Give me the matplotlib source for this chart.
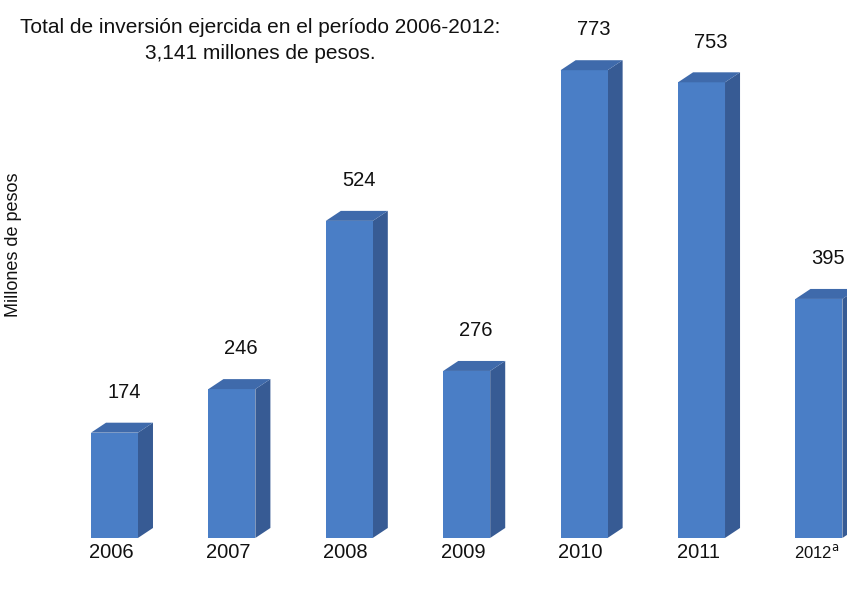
import matplotlib
matplotlib.use('Agg')
import matplotlib.pyplot as plt
from matplotlib.patches import Polygon

# data
years = ['2006', '2007', '2008', '2009', '2010', '2011', '2012']
values = [174, 246, 524, 276, 773, 753, 395]

plt.rcParams['font.family'] = ['Liberation Sans', 'DejaVu Sans']

fig = plt.figure(figsize=(8.47, 5.90), dpi=100)
ax = fig.add_axes([0, 0, 1, 1])

# axes limits chosen so the bars land where they sit in the picture
ax.set_xlim(-0.975, 6.239)
ax.set_ylim(-86, 889)
ax.axis('off')

width = 0.40
ddx = 0.128   # depth of the fake 3d box, x units
ddy = 16.5    # depth, y units

front = '#4a7ec6'
side = '#375b94'
top = '#3f6aab'

xs = list(range(len(years)))
ax.bar(xs, values, width=width, color=front, edgecolor='none', zorder=3)

for x, v in zip(xs, values):
    x0 = x - width / 2
    x1 = x + width / 2
    # right side face
    ax.add_patch(Polygon([(x1, 0), (x1 + ddx, ddy), (x1 + ddx, v + ddy), (x1, v)],
                         closed=True, facecolor=side, edgecolor='none', zorder=2))
    # top face
    ax.add_patch(Polygon([(x0, v), (x0 + ddx, v + ddy), (x1 + ddx, v + ddy), (x1, v)],
                         closed=True, facecolor=top, edgecolor='none', zorder=4))
    ax.text(x + 0.08, v + ddy + 50, str(v), ha='center', va='center',
            fontsize=14.5, color='#111111')

for x, yr in zip(xs[:-1], years[:-1]):
    ax.text(x - 0.03, -24, yr, ha='center', va='center', fontsize=14.5, color='#111111')
ax.text(xs[-1] - 0.02, -24, '2012$^{\\mathrm{a}}$', ha='center', va='center',
        fontsize=12, color='#111111')

fig.text(0.307, 0.954, 'Total de inversión ejercida en el período 2006-2012:',
         ha='center', va='center', fontsize=15, color='#111111')
fig.text(0.307, 0.909, '3,141 millones de pesos.',
         ha='center', va='center', fontsize=15, color='#111111')
fig.text(0.016, 0.585, 'Millones de pesos', rotation=90, ha='center', va='center',
         fontsize=13, color='#111111')

fig.savefig('out.png', dpi=100)
